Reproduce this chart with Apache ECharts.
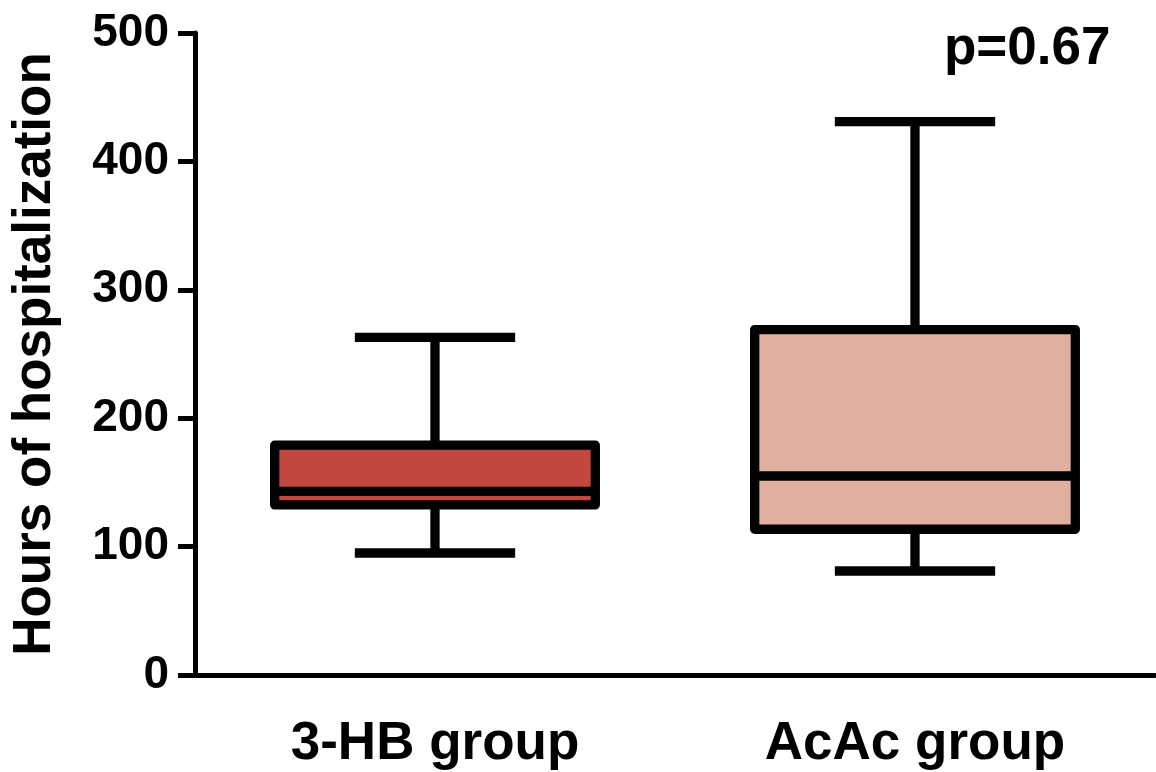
<!DOCTYPE html>
<html>
<head>
<meta charset="utf-8">
<script src="https://cdn.jsdelivr.net/npm/echarts@6/dist/echarts.min.js"></script>
<style>html,body{margin:0;padding:0;background:#fff}#c{width:1156px;height:772px}</style>
</head>
<body>
<div id="c"></div>
<script>
const categories = ['3-HB group', 'AcAc group'];
const whiskerMin = [95, 81];
const q1Values = [132.5, 113.5];
const medianValues = [143, 155];
const q3Values = [179, 269];
const whiskerMax = [263, 431];
const boxColors = ['#C1473F', '#DFB09F'];
const yTickValues = [0, 100, 200, 300, 400, 500];
const pLabel = 'p=0.67';

const FONT = '"Liberation Sans", Arial, Helvetica, sans-serif';
const data = categories.map((c, i) => [i, whiskerMin[i], q1Values[i], medianValues[i], q3Values[i], whiskerMax[i]]);

const chart = echarts.init(document.getElementById('c'), null, {renderer: 'canvas'});
const LW = 9.3;
chart.setOption({
  animation: false,
  backgroundColor: '#fff',
  grid: {left: 195, right: 1, top: 33, bottom: 97, containLabel: false},
  xAxis: {
    type: 'category',
    data: categories,
    boundaryGap: true,
    axisLine: {lineStyle: {color: '#000', width: 5}},
    axisTick: {alignWithLabel: true, length: 17, lineStyle: {color: '#000', width: 5}},
    axisLabel: {color: '#000', fontSize: 53, fontWeight: 'bold', fontFamily: FONT, margin: 43},
    splitLine: {show: false}
  },
  yAxis: {
    type: 'value',
    min: yTickValues[0],
    max: yTickValues[yTickValues.length - 1],
    interval: 100,
    name: 'Hours of hospitalization',
    nameLocation: 'middle',
    nameGap: 133,
    nameTextStyle: {color: '#000', fontSize: 53, fontWeight: 'bold', fontFamily: FONT},
    axisLine: {show: true, lineStyle: {color: '#000', width: 5}},
    axisTick: {show: true, length: 17, lineStyle: {color: '#000', width: 5}},
    axisLabel: {color: '#000', fontSize: 46, fontWeight: 'bold', fontFamily: FONT, margin: 26},
    splitLine: {show: false}
  },
  graphic: [{
    type: 'text', left: 944, top: 23,
    style: {text: pLabel, fill: '#000', font: 'bold 53px ' + FONT}
  }],
  series: [{
    type: 'custom',
    data: data,
    clip: false,
    renderItem: function (params, api) {
      const idx = api.value(0);
      const cx = api.coord([idx, 0])[0];
      const band = api.size([1, 0])[0];
      const bw = band * 0.668;
      const cw = bw / 2;
      const yMin = api.coord([idx, api.value(1)])[1];
      const yQ1 = api.coord([idx, api.value(2)])[1];
      const yMed = api.coord([idx, api.value(3)])[1];
      const yQ3 = api.coord([idx, api.value(4)])[1];
      const yMax = api.coord([idx, api.value(5)])[1];
      const stroke = {stroke: '#000', lineWidth: LW, lineCap: 'butt'};
      return {
        type: 'group',
        children: [
          {type: 'line', shape: {x1: cx, y1: yMax, x2: cx, y2: yQ3}, style: stroke},
          {type: 'line', shape: {x1: cx, y1: yQ1, x2: cx, y2: yMin}, style: stroke},
          {type: 'line', shape: {x1: cx - cw / 2, y1: yMax, x2: cx + cw / 2, y2: yMax}, style: stroke},
          {type: 'line', shape: {x1: cx - cw / 2, y1: yMin, x2: cx + cw / 2, y2: yMin}, style: stroke},
          {type: 'rect', shape: {x: cx - bw / 2, y: yQ3, width: bw, height: yQ1 - yQ3},
            style: {fill: boxColors[params.dataIndex], stroke: '#000', lineWidth: LW, lineJoin: 'round'}},
          {type: 'line', shape: {x1: cx - bw / 2, y1: yMed, x2: cx + bw / 2, y2: yMed}, style: stroke}
        ]
      };
    }
  }]
});
</script>
</body>
</html>
